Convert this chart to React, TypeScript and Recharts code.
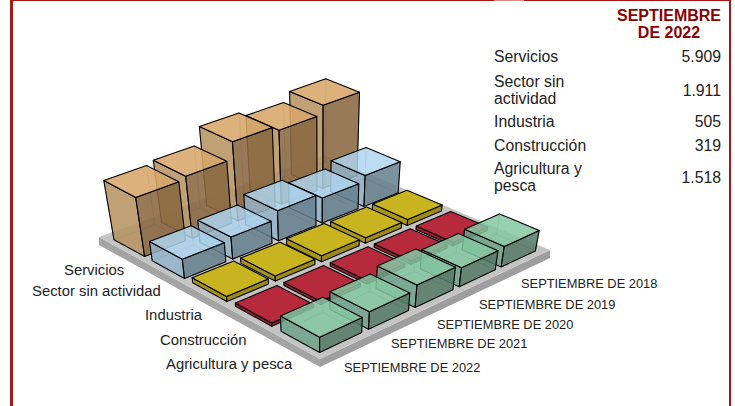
import React from "react";
import { BarChart, Bar, XAxis, YAxis } from "recharts";

const periods = ["SEPTIEMBRE DE 2018", "SEPTIEMBRE DE 2019", "SEPTIEMBRE DE 2020", "SEPTIEMBRE DE 2021", "SEPTIEMBRE DE 2022"];
const sectors = ["Servicios", "Sector sin actividad", "Industria", "Construcción", "Agricultura y pesca"];
const servicios = [8300, 7400, 7900, 6200, 5909];
const sinActividad = [3100, 2500, 3000, 2200, 1911];
const industria = [600, 550, 600, 520, 505];
const construccion = [330, 320, 320, 320, 319];
const agricultura = [2050, 1900, 2250, 1750, 1518];
const seriesValues = [servicios, sinActividad, industria, construccion, agricultura];
const tableTitle = ["SEPTIEMBRE", "DE 2022"];
const tableLabels = [["Servicios"], ["Sector sin", "actividad"], ["Industria"], ["Construcción"], ["Agricultura y", "pesca"]];
const tableValues = ["5.909", "1.911", "505", "319", "1.518"];

const chartData = periods.map((period, i) => {
  const row: Record<string, string | number> = { period };
  sectors.forEach((s, k) => { row[s] = seriesValues[k][i]; });
  return row;
});

// layout constants
const W = 735, H = 406;
const sectorLabelPos = [[64, 275], [32, 296], [145, 320], [160, 345], [166, 369]];
const periodLabelPos = [[521, 288], [479, 309], [437, 329], [391, 348], [344, 372]];
const tableRowTops = [45, 71, 111, 135, 158];
const tableRowHeights = [22, 38, 20, 20, 38];
const quad = { left: [99, 237], back: [324, 155], right: [550, 250], front: [320, 359] };
const palettes = [
  { top: "rgba(217,169,108,.85)", fl: "rgba(185,150,100,.85)", fr: "rgba(137,104,66,.85)", back: "rgba(140,105,60,.22)", glass: true },
  { top: "rgba(178,218,242,.8)", fl: "rgba(150,182,202,.8)", fr: "rgba(102,128,142,.82)", back: "rgba(90,130,160,.2)", glass: true },
  { top: "#c8b41e", fl: "#a8951a", fr: "#9c8a14", back: "none", glass: false },
  { top: "#b72a3c", fl: "#9c2232", fr: "#8f1f2e", back: "none", glass: false },
  { top: "rgba(135,202,165,.82)", fl: "rgba(112,165,140,.82)", fr: "rgba(85,122,102,.82)", back: "rgba(70,130,100,.2)", glass: true },
];

function makeHomography() {
  const [x0, y0] = quad.left, [x1, y1] = quad.back, [x2, y2] = quad.right, [x3, y3] = quad.front;
  const dx1 = x1 - x2, dx2 = x3 - x2, sx = x0 - x1 + x2 - x3;
  const dy1 = y1 - y2, dy2 = y3 - y2, sy = y0 - y1 + y2 - y3;
  const den = dx1 * dy2 - dx2 * dy1;
  const g = (sx * dy2 - dx2 * sy) / den, h = (dx1 * sy - sx * dy1) / den;
  const a = x1 - x0 + g * x1, b = x3 - x0 + h * x3;
  const d = y1 - y0 + g * y1, e = y3 - y0 + h * y3;
  return (u: number, v: number): [number, number] => {
    const w = g * u + h * v + 1;
    return [(a * u + b * v + x0) / w, (d * u + e * v + y0) / w];
  };
}
const project = makeHomography();
const lift = (pt: [number, number], h: number): [number, number] => [pt[0] + ((pt[0] - 320) / (1430 - pt[1])) * h, pt[1] - h];
const pts = (list: [number, number][]) => list.map((p) => `${p[0].toFixed(1)},${p[1].toFixed(1)}`).join(" ");

const P_START = 0.024, P_PITCH = 0.193, P_SIZE = 0.165;
const Q_START = 0.047, Q_PITCH = 0.193, Q_SIZE = 0.155;

function cellShape(rowIndex: number) {
  const pal = palettes[rowIndex];
  return (props: any) => {
    const col = 4 - props.index; // 2022 is nearest to the front corner
    const h = props.height;
    const p0 = P_START + col * P_PITCH, p1 = p0 + P_SIZE;
    const q0 = Q_START + rowIndex * Q_PITCH, q1 = q0 + Q_SIZE;
    const L = project(p0, q0), B = project(p1, q0), R = project(p1, q1), F = project(p0, q1);
    const TL = lift(L, h), TB = lift(B, h), TR = lift(R, h), TF = lift(F, h);
    const edge = { stroke: "#000", strokeWidth: 1.1, strokeLinejoin: "round" as const };
    return (
      <g>
        {pal.glass && (
          <g>
            <polygon points={pts([L, B, R, F])} fill={pal.back} stroke="rgba(0,0,0,.18)" strokeWidth={0.8} />
            <polygon points={pts([L, B, TB, TL])} fill={pal.back} stroke="rgba(0,0,0,.18)" strokeWidth={0.8} />
            <polygon points={pts([B, R, TR, TB])} fill={pal.back} stroke="rgba(0,0,0,.18)" strokeWidth={0.8} />
          </g>
        )}
        <polygon points={pts([L, F, TF, TL])} fill={pal.fl} {...edge} />
        <polygon points={pts([F, R, TR, TF])} fill={pal.fr} {...edge} />
        <polygon points={pts([TL, TB, TR, TF])} fill={pal.top} {...edge} />
      </g>
    );
  };
}

function PeriodTick(props: any) {
  const i = props.index;
  const [x, y] = periodLabelPos[i];
  return (
    <text x={x} y={y} fontSize={12.85} fontFamily="Liberation Sans" fill="#222">
      {periods[i]}
    </text>
  );
}

function Platform() {
  const { left, back, right, front } = quad;
  const d = (p: number[], n: number): [number, number] => [p[0], p[1] + n];
  return (
    <g>
      <polygon points={pts([d(left, 0), d(front, 0), d(front, 8), d(left, 8)])} fill="#a4a4a4" />
      <polygon points={pts([d(front, 0), d(right, 0), d(right, 8), d(front, 8)])} fill="#9e9e9e" />
      <polygon points={pts([d(left, 0), d(back, 0), d(right, 0), d(front, 0)])} fill="#c4c4c4" />
    </g>
  );
}

function SectorLabels() {
  return (
    <g>
      {sectors.map((s, i) => (
        <text key={s} x={sectorLabelPos[i][0]} y={sectorLabelPos[i][1]} fontSize={14.85} fontFamily="Liberation Sans" fill="#222">
          {s}
        </text>
      ))}
    </g>
  );
}

const RED = "#ad1414";

export default function App() {
  return (
    <div style={{ position: "absolute", left: 0, top: 0, width: W, height: H, background: "#fff", overflow: "hidden", fontFamily: "Liberation Sans" }}>
      <div style={{ position: "absolute", left: 10, top: 0, width: 3, height: H, background: RED }} />
      <div style={{ position: "absolute", left: 729, top: 0, width: 2, height: H, background: RED }} />
      <div style={{ position: "absolute", left: 10, top: 0, width: 721, height: 1, background: RED }} />
      <div style={{ position: "absolute", left: 494, top: 0, width: 30, height: 1, background: "#d88a8a" }} />
      <div style={{ position: "absolute", left: 0, top: 0 }}>
        <BarChart width={W} height={H} data={chartData} margin={{ top: 280, right: 0, bottom: 25, left: 0 }} barCategoryGap={0} barGap={0}>
          <Platform />
          <XAxis dataKey="period" axisLine={false} tickLine={false} height={1} interval={0} tick={<PeriodTick />} />
          <YAxis hide width={0} domain={[0, 10000]} />
          {sectors.map((s, i) => (
            <Bar key={s} dataKey={s} isAnimationActive={false} shape={cellShape(i)} />
          ))}
          <SectorLabels />
        </BarChart>
      </div>
      <div style={{ position: "absolute", left: 609, top: 7, width: 120, textAlign: "center", color: "#8b0000", fontWeight: 700, fontSize: 16, lineHeight: "17px" }}>
        {tableTitle.map((t) => <div key={t}>{t}</div>)}
      </div>
      {tableLabels.map((lines, i) => (
        <div key={i} style={{ position: "absolute", left: 494, top: tableRowTops[i], width: 227, height: tableRowHeights[i], display: "flex", alignItems: "center", justifyContent: "space-between", color: "#222", fontSize: 15.8, lineHeight: "17px" }}>
          <div>{lines.map((l) => <div key={l}>{l}</div>)}</div>
          <div>{tableValues[i]}</div>
        </div>
      ))}
    </div>
  );
}
